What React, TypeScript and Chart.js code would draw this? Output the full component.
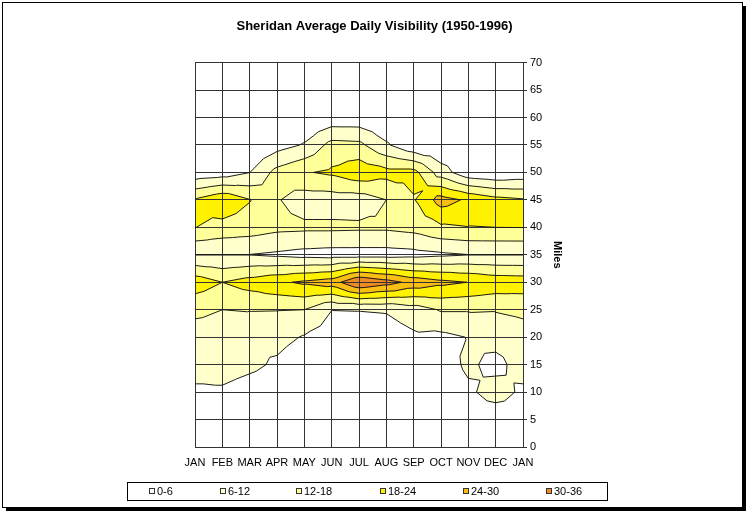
import React, { useEffect, useRef } from 'react';
import { Chart, registerables } from 'chart.js';

Chart.register(...registerables);

// ---- data ----
const MONTHS = ['JAN', 'FEB', 'MAR', 'APR', 'MAY', 'JUN', 'JUL', 'AUG', 'SEP', 'OCT', 'NOV', 'DEC', 'JAN'];
const MILES = [0, 5, 10, 15, 20, 25, 30, 35, 40, 45, 50, 55, 60, 65, 70];

// frequency values per visibility row (columns JAN..DEC, JAN)
const row00 = [0.5, 0.5, 0.5, 0.5, 0.3, 0, 0, 0, 0, 0.3, 0.5, 0.3, 0.5];
const row05 = [2, 2.5, 1.5, 1, 0.5, 0.2, 0.2, 0.2, 0.2, 0.5, 1.5, 0.5, 2];
const row10 = [4.5, 5, 3, 2, 1, 0.5, 0.5, 0.5, 0.5, 1, 4.5, 9.5, 4.5];
const row15 = [9.5, 9, 7.5, 5, 2, 1, 1, 1, 1.5, 2, 7.5, 3.5, 9.5];
const row20 = [10, 10, 7, 8, 5.5, 3, 2.5, 3, 5, 4.5, 6.2, 9, 10];
const row25 = [13, 12, 12.3, 12.2, 12, 6.1, 6.2, 6.5, 9, 12.5, 12.5, 12.3, 13];
const row30 = [21.6, 18, 20.5, 22.8, 25, 27, 36, 32.5, 28, 25.5, 23.9, 22, 21.6];
const row35 = [5.9, 5.9, 5.9, 5, 4, 3.5, 3.5, 3.5, 4, 5, 5.9, 5.9, 5.9];
const row40 = [18.1, 15.9, 15, 13.5, 13.2, 13.2, 13, 13, 14, 17, 17.8, 18, 18.1];
const row45 = [18.7, 22.8, 18.3, 12.5, 9, 9, 9, 12, 17.5, 26.5, 23, 20, 18.7];
const row50 = [1.7, 2.8, 5.9, 14, 17.5, 19, 22, 20, 20, 9, 1.8, 0.5, 1.7];
const row55 = [0, 0, 0.5, 3.5, 6.5, 14, 13.5, 6.8, 1, 0, 0, 0, 0];
const row60 = [0, 0, 0, 0, 0.5, 2, 2, 0.5, 0, 0, 0, 0, 0];
const row65 = [0, 0, 0, 0, 0, 0, 0, 0, 0, 0, 0, 0, 0];
const row70 = [0, 0, 0, 0, 0, 0, 0, 0, 0, 0, 0, 0, 0];
const ROWS = [row00, row05, row10, row15, row20, row25, row30, row35, row40, row45, row50, row55, row60, row65, row70];

const LEVELS = [6, 12, 18, 24, 30];
const BAND_LABELS = ['0-6', '6-12', '12-18', '18-24', '24-30', '30-36'];
const BAND_COLORS = ['#FFFFFF', '#FFFFCC', '#FFFF99', '#FFF200', '#F8BE14', '#EE8A22'];

const TITLE = 'Sheridan Average Daily Visibility (1950-1996)';
const FONT = '"Liberation Sans", Arial, sans-serif';

type P = { x: number; y: number; v: number };

function buildTriangles(): P[][] {
  const tris: P[][] = [];
  for (let j = 0; j < MILES.length - 1; j++) {
    for (let i = 0; i < MONTHS.length - 1; i++) {
      const a = { x: i, y: MILES[j], v: ROWS[j][i] };
      const b = { x: i + 1, y: MILES[j], v: ROWS[j][i + 1] };
      const c = { x: i + 1, y: MILES[j + 1], v: ROWS[j + 1][i + 1] };
      const d = { x: i, y: MILES[j + 1], v: ROWS[j + 1][i] };
      const m = { x: i + 0.5, y: (MILES[j] + MILES[j + 1]) / 2, v: (a.v + b.v + c.v + d.v) / 4 };
      tris.push([a, b, m], [b, c, m], [c, d, m], [d, a, m]);
    }
  }
  return tris;
}

function clipAbove(poly: P[], lvl: number): P[] {
  const out: P[] = [];
  for (let k = 0; k < poly.length; k++) {
    const a = poly[k];
    const b = poly[(k + 1) % poly.length];
    const ia = a.v >= lvl;
    const ib = b.v >= lvl;
    if (ia) out.push(a);
    if (ia !== ib) {
      const t = (lvl - a.v) / (b.v - a.v);
      out.push({ x: a.x + t * (b.x - a.x), y: a.y + t * (b.y - a.y), v: lvl });
    }
  }
  return out;
}

const contourPlugin = {
  id: 'contourPlugin',
  beforeDraw(chart: any) {
    const { ctx, chartArea, scales } = chart;
    const xs = scales.x;
    const ys = scales.y;
    ctx.save();
    ctx.fillStyle = '#FFFFFF';
    ctx.fillRect(0, 0, chart.width, chart.height);
    ctx.beginPath();
    ctx.rect(chartArea.left, chartArea.top, chartArea.right - chartArea.left, chartArea.bottom - chartArea.top);
    ctx.clip();
    const tris = buildTriangles();
    for (let b = 1; b < BAND_COLORS.length; b++) {
      const lo = LEVELS[b - 1];
      ctx.fillStyle = BAND_COLORS[b];
      ctx.strokeStyle = BAND_COLORS[b];
      ctx.lineWidth = 0.8;
      for (const tri of tris) {
        const poly = clipAbove(tri, lo);
        if (poly.length < 3) continue;
        ctx.beginPath();
        poly.forEach((p, i) => {
          const px = xs.getPixelForValue(p.x);
          const py = ys.getPixelForValue(p.y);
          if (i === 0) ctx.moveTo(px, py);
          else ctx.lineTo(px, py);
        });
        ctx.closePath();
        ctx.fill();
        ctx.stroke();
      }
    }
    ctx.restore();
  },
  afterDatasetsDraw(chart: any) {
    const { ctx, chartArea, scales } = chart;
    const xs = scales.x;
    const ys = scales.y;
    ctx.save();
    ctx.beginPath();
    ctx.rect(chartArea.left, chartArea.top, chartArea.right - chartArea.left, chartArea.bottom - chartArea.top);
    ctx.clip();
    const tris = buildTriangles();
    ctx.strokeStyle = '#1c1c1c';
    ctx.lineWidth = 1;
    ctx.lineJoin = 'round';
    for (const L of LEVELS) {
      ctx.beginPath();
      for (const tri of tris) {
        const pts: { x: number; y: number }[] = [];
        for (let k = 0; k < 3; k++) {
          const a = tri[k];
          const b = tri[(k + 1) % 3];
          if ((a.v >= L) !== (b.v >= L)) {
            const t = (L - a.v) / (b.v - a.v);
            pts.push({ x: a.x + t * (b.x - a.x), y: a.y + t * (b.y - a.y) });
          }
        }
        if (pts.length === 2) {
          ctx.moveTo(xs.getPixelForValue(pts[0].x), ys.getPixelForValue(pts[0].y));
          ctx.lineTo(xs.getPixelForValue(pts[1].x), ys.getPixelForValue(pts[1].y));
        }
      }
      ctx.stroke();
    }
    ctx.restore();
  },
  afterDraw(chart: any) {
    const { ctx } = chart;
    ctx.save();
    // outer frame with shadow
    ctx.fillStyle = '#000000';
    ctx.fillRect(743, 6, 3, 505);
    ctx.fillRect(6, 508, 740, 3);
    ctx.strokeStyle = '#000000';
    ctx.lineWidth = 1;
    ctx.strokeRect(2.5, 2.5, 740, 505);
    // legend
    ctx.strokeRect(127.5, 482.5, 480, 18);
    const textX = [157, 228, 304, 388, 471, 554];
    ctx.font = `11px ${FONT}`;
    ctx.textBaseline = 'middle';
    ctx.textAlign = 'left';
    BAND_LABELS.forEach((lab, i) => {
      const sx = textX[i] - 8;
      ctx.fillStyle = BAND_COLORS[i];
      ctx.fillRect(sx, 488, 6, 6);
      ctx.strokeStyle = '#333333';
      ctx.strokeRect(sx + 0.5, 488.5, 5, 5);
      ctx.fillStyle = '#000000';
      ctx.fillText(lab, textX[i], 492);
    });
    ctx.restore();
  },
};

export default function App() {
  const ref = useRef<HTMLCanvasElement>(null);
  useEffect(() => {
    document.body.style.margin = '0';
    const canvas = ref.current;
    if (!canvas) return;
    const tickFont = { family: FONT, size: 11 };
    const chart = new Chart(canvas, {
      type: 'line',
      data: { datasets: [] },
      options: {
        animation: false,
        responsive: false,
        devicePixelRatio: 1,
        layout: { padding: { top: 0, left: 0, right: 0, bottom: 44 } },
        plugins: {
          legend: { display: false },
          tooltip: { enabled: false },
          title: {
            display: true,
            text: TITLE,
            color: '#000000',
            font: { family: FONT, size: 13, weight: 'bold' },
            padding: { top: 19, bottom: 28 },
          },
        },
        scales: {
          x: {
            type: 'linear',
            min: 0,
            max: 12,
            position: 'bottom',
            ticks: {
              stepSize: 1,
              autoSkip: false,
              maxRotation: 0,
              color: '#000000',
              font: tickFont,
              padding: 9,
              callback: (v: any) => MONTHS[Math.round(Number(v))],
            },
            grid: { color: '#333333', drawTicks: false, lineWidth: 1 },
            border: { color: '#333333' },
            afterFit: (s: any) => { s.height = 22; },
          },
          y: {
            type: 'linear',
            min: 0,
            max: 70,
            position: 'right',
            ticks: { stepSize: 5, color: '#000000', font: tickFont, padding: 3 },
            grid: { color: '#333333', tickLength: 4, lineWidth: 1 },
            border: { color: '#333333' },
            title: { display: true, text: 'Miles', color: '#000000', font: { family: FONT, size: 11, weight: 'bold' }, padding: 0 },
            afterFit: (s: any) => { s.width = 41; },
          },
          yl: {
            type: 'linear',
            position: 'left',
            min: 0,
            max: 1,
            ticks: { display: false },
            grid: { display: false },
            border: { display: false },
            afterFit: (s: any) => { s.width = 195; },
          },
          yr: {
            type: 'linear',
            position: 'right',
            weight: 10,
            min: 0,
            max: 1,
            ticks: { display: false },
            grid: { display: false },
            border: { display: false },
            afterFit: (s: any) => { s.width = 185; },
          },
        },
      } as any,
      plugins: [contourPlugin],
    });
    return () => chart.destroy();
  }, []);
  return <canvas ref={ref} width={749} height={513} style={{ display: 'block', width: 749, height: 513 }} />;
}
